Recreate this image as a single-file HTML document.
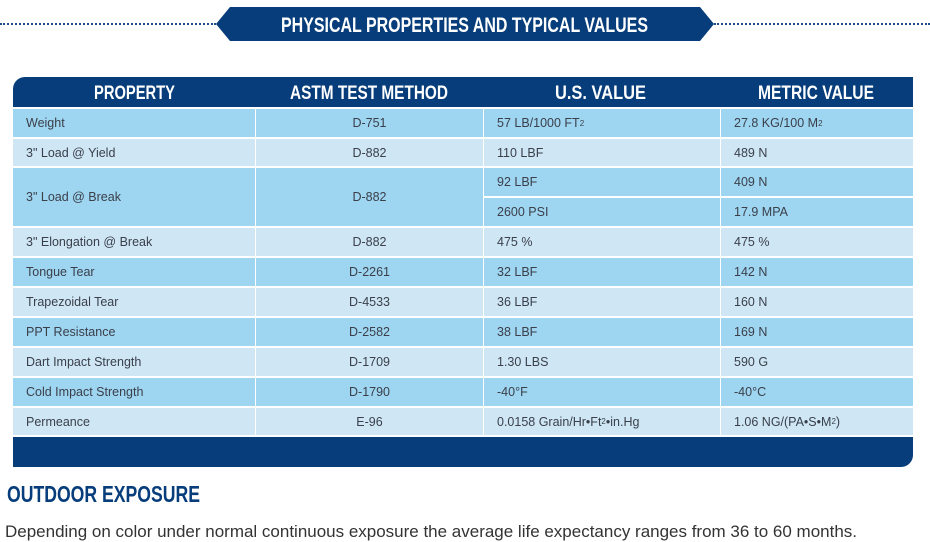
<!DOCTYPE html>
<html><head><meta charset="utf-8"><style>
*{margin:0;padding:0;box-sizing:border-box}
body{width:930px;height:542px;background:#fff;position:relative;overflow:hidden;font-family:"Liberation Sans",sans-serif}
.a{position:absolute}
.c{position:absolute;display:flex;align-items:center;font-size:12.5px;color:#3a3f4a;padding-left:13px}
.ctr{justify-content:center;padding-left:0}
.d{background:#9ed5f0}.l{background:#cfe7f5}
sup{font-size:8px;vertical-align:6px}
</style></head><body>
<div class="a" style="left:0;top:23px;width:216px;border-top:2px dotted #1e4f8c"></div>
<div class="a" style="left:714px;top:23px;width:216px;border-top:2px dotted #1e4f8c"></div>
<svg class="a" style="left:216px;top:7px" width="498" height="34"><polygon points="14,0 484,0 498,17 484,34 14,34 0,17" fill="#063d7a"/></svg>

<div class="a" style="left:13px;top:77px;width:900px;height:390px;background:#fff;border-top-left-radius:12px;border-bottom-right-radius:12px;overflow:hidden">
<div class="a" style="left:0;top:0;width:900px;height:30px;background:#063d7a"></div>
<div class="a" style="left:0;top:360px;width:900px;height:30px;background:#063d7a"></div>
</div>

<div class="c d" style="left:13px;top:109px;width:242px;height:28px">Weight</div>
<div class="c d ctr" style="left:256px;top:109px;width:227px;height:28px">D-751</div>
<div class="c d" style="left:484px;top:109px;width:236px;height:28px">57 LB/1000 FT<sup>2</sup></div>
<div class="c d" style="left:721px;top:109px;width:192px;height:28px">27.8 KG/100 M<sup>2</sup></div>

<div class="c l" style="left:13px;top:139px;width:242px;height:27px">3" Load @ Yield</div>
<div class="c l ctr" style="left:256px;top:139px;width:227px;height:27px">D-882</div>
<div class="c l" style="left:484px;top:139px;width:236px;height:27px">110 LBF</div>
<div class="c l" style="left:721px;top:139px;width:192px;height:27px">489 N</div>

<div class="c d" style="left:13px;top:168px;width:242px;height:58px">3" Load @ Break</div>
<div class="c d ctr" style="left:256px;top:168px;width:227px;height:58px">D-882</div>
<div class="c d" style="left:484px;top:168px;width:236px;height:28px">92 LBF</div>
<div class="c d" style="left:721px;top:168px;width:192px;height:28px">409 N</div>
<div class="c d" style="left:484px;top:198px;width:236px;height:28px">2600 PSI</div>
<div class="c d" style="left:721px;top:198px;width:192px;height:28px">17.9 MPA</div>

<div class="c l" style="left:13px;top:228px;width:242px;height:28px">3" Elongation @ Break</div>
<div class="c l ctr" style="left:256px;top:228px;width:227px;height:28px">D-882</div>
<div class="c l" style="left:484px;top:228px;width:236px;height:28px">475 %</div>
<div class="c l" style="left:721px;top:228px;width:192px;height:28px">475 %</div>

<div class="c d" style="left:13px;top:258px;width:242px;height:28px">Tongue Tear</div>
<div class="c d ctr" style="left:256px;top:258px;width:227px;height:28px">D-2261</div>
<div class="c d" style="left:484px;top:258px;width:236px;height:28px">32 LBF</div>
<div class="c d" style="left:721px;top:258px;width:192px;height:28px">142 N</div>

<div class="c l" style="left:13px;top:288px;width:242px;height:28px">Trapezoidal Tear</div>
<div class="c l ctr" style="left:256px;top:288px;width:227px;height:28px">D-4533</div>
<div class="c l" style="left:484px;top:288px;width:236px;height:28px">36 LBF</div>
<div class="c l" style="left:721px;top:288px;width:192px;height:28px">160 N</div>

<div class="c d" style="left:13px;top:318px;width:242px;height:28px">PPT Resistance</div>
<div class="c d ctr" style="left:256px;top:318px;width:227px;height:28px">D-2582</div>
<div class="c d" style="left:484px;top:318px;width:236px;height:28px">38 LBF</div>
<div class="c d" style="left:721px;top:318px;width:192px;height:28px">169 N</div>

<div class="c l" style="left:13px;top:348px;width:242px;height:28px">Dart Impact Strength</div>
<div class="c l ctr" style="left:256px;top:348px;width:227px;height:28px">D-1709</div>
<div class="c l" style="left:484px;top:348px;width:236px;height:28px">1.30 LBS</div>
<div class="c l" style="left:721px;top:348px;width:192px;height:28px">590 G</div>

<div class="c d" style="left:13px;top:378px;width:242px;height:28px">Cold Impact Strength</div>
<div class="c d ctr" style="left:256px;top:378px;width:227px;height:28px">D-1790</div>
<div class="c d" style="left:484px;top:378px;width:236px;height:28px">-40°F</div>
<div class="c d" style="left:721px;top:378px;width:192px;height:28px">-40°C</div>

<div class="c l" style="left:13px;top:408px;width:242px;height:27px">Permeance</div>
<div class="c l ctr" style="left:256px;top:408px;width:227px;height:27px">E-96</div>
<div class="c l" style="left:484px;top:408px;width:236px;height:27px">0.0158 Grain/Hr•Ft<sup>2</sup>•in.Hg</div>
<div class="c l" style="left:721px;top:408px;width:192px;height:27px">1.06 NG/(PA•S•M<sup>2</sup>)</div>

<svg class="a" style="left:0;top:0" width="930" height="542">
<g font-family="Liberation Sans, sans-serif" font-weight="bold" fill="#fff" lengthAdjust="spacingAndGlyphs">
<text x="281" y="32" font-size="21" textLength="367" lengthAdjust="spacingAndGlyphs">PHYSICAL PROPERTIES AND TYPICAL VALUES</text>
<text x="94" y="99" font-size="19" textLength="81" lengthAdjust="spacingAndGlyphs">PROPERTY</text>
<text x="290" y="99" font-size="19" textLength="158" lengthAdjust="spacingAndGlyphs">ASTM TEST METHOD</text>
<text x="555" y="99" font-size="19" textLength="91" lengthAdjust="spacingAndGlyphs">U.S. VALUE</text>
<text x="758" y="99" font-size="19" textLength="116" lengthAdjust="spacingAndGlyphs">METRIC VALUE</text>
<text x="7" y="502" font-size="23" fill="#063d7a" textLength="193" lengthAdjust="spacingAndGlyphs">OUTDOOR EXPOSURE</text>
</g>
<text x="5" y="537" font-family="Liberation Sans, sans-serif" font-size="17" fill="#333" textLength="852" lengthAdjust="spacingAndGlyphs">Depending on color under normal continuous exposure the average life expectancy ranges from 36 to 60 months.</text>
</svg>
</body></html>
